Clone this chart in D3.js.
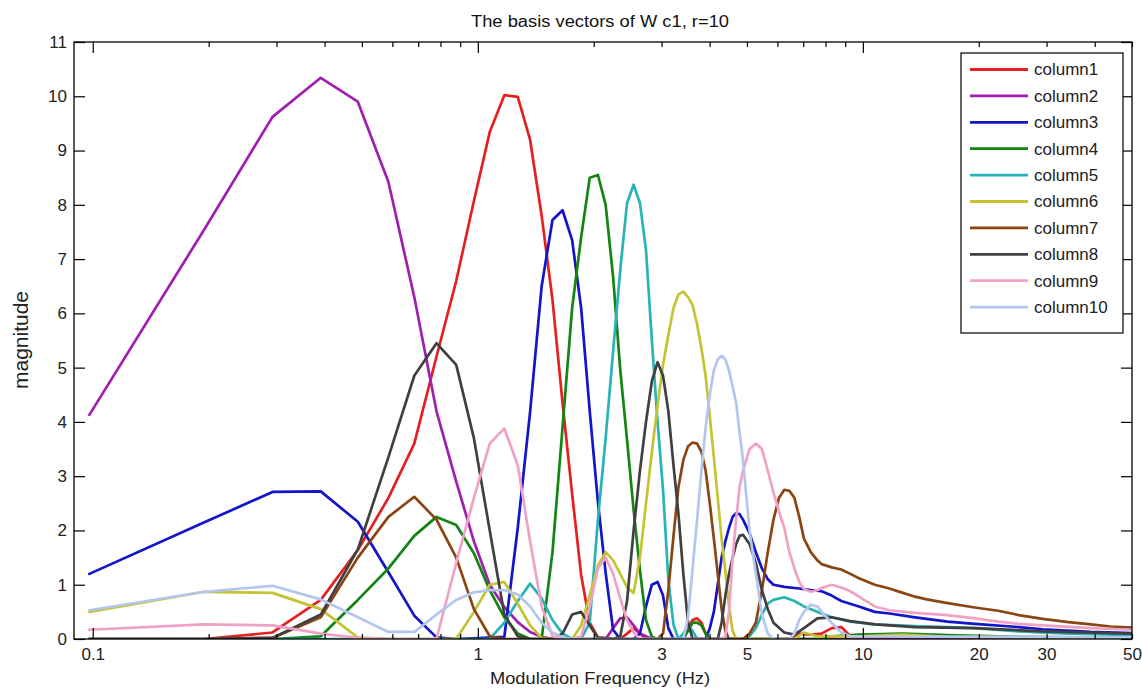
<!DOCTYPE html>
<html><head><meta charset="utf-8">
<script src="https://cdn.jsdelivr.net/npm/d3@7"></script>
<style>body{margin:0;background:#fff} text{font-family:"Liberation Sans",Arial,sans-serif}</style>
</head><body><svg id="c" width="1142" height="688"></svg>
<script>
const chartTitle = "The basis vectors of W c1, r=10";
const xLabel = "Modulation Frequency (Hz)";
const yLabel = "magnitude";
const seriesNames = ["column1","column2","column3","column4","column5","column6","column7","column8","column9","column10"];
const seriesColors = ["#e42020","#a01fb0","#1414c8","#138513","#28b4b4","#c4c432","#8b4513","#404040","#f0a2c6","#b4c6ee"];
const xTickLabels = [0.1, 1, 3, 5, 10, 20, 30, 50];
const xMajorTicks = [0.1, 1, 10];
const xMinorTicks = [0.2,0.3,0.4,0.5,0.6,0.7,0.8,0.9,2,3,4,5,6,7,8,9,20,30,40,50];
const yTicks = [0,1,2,3,4,5,6,7,8,9,10,11];

const column1 = [[0.098,0],[0.195,0],[0.293,0.12],[0.391,0.72],[0.488,1.64],[0.586,2.6],[0.684,3.6],[0.781,5.2],[0.879,6.6],[0.977,8.07],[1.074,9.34],[1.172,10.02],[1.270,9.99],[1.367,9.2],[1.465,7.8],[1.563,6.25],[1.660,4.35],[1.758,2.67],[1.855,1.18],[1.953,0.3],[2.051,0.03],[2.344,0],[2.441,0.1],[2.539,0.2],[2.637,0.1],[2.734,0],[3.418,0],[3.516,0.2],[3.613,0.35],[3.711,0.38],[3.809,0.3],[3.906,0.1],[4.004,0],[6.445,0],[6.836,0.1],[7.324,0.08],[7.813,0.1],[8.301,0.2],[8.789,0.22],[9.277,0.05],[9.766,0.03],[14.65,0.03],[50,0.02]];
const column2 = [[0.098,4.13],[0.195,7.55],[0.293,9.62],[0.391,10.34],[0.488,9.9],[0.586,8.42],[0.684,6.3],[0.781,4.2],[0.879,2.9],[0.977,1.8],[1.074,1.0],[1.172,0.59],[1.270,0.31],[1.367,0.13],[1.465,0.04],[1.563,0],[2.148,0],[2.246,0.2],[2.344,0.38],[2.441,0.4],[2.539,0.25],[2.637,0.1],[2.734,0.05],[2.832,0],[50,0]];
const column3 = [[0.098,1.2],[0.195,2.15],[0.293,2.71],[0.391,2.72],[0.488,2.16],[0.586,1.23],[0.684,0.43],[0.781,0.03],[0.879,0],[1.172,0.04],[1.270,2.05],[1.367,4.18],[1.465,6.5],[1.563,7.72],[1.660,7.9],[1.758,7.35],[1.855,6.1],[1.953,4.2],[2.051,2.52],[2.148,1.22],[2.246,0.17],[2.344,0],[2.539,0],[2.637,0.1],[2.734,0.6],[2.832,1.0],[2.930,1.05],[3.027,0.8],[3.125,0.2],[3.223,0],[3.906,0],[4.004,0.2],[4.102,0.5],[4.199,1.0],[4.297,1.5],[4.395,1.8],[4.492,2.05],[4.590,2.25],[4.688,2.32],[4.785,2.3],[4.883,2.2],[5.078,1.95],[5.273,1.6],[5.469,1.3],[5.664,1.1],[5.859,1.0],[6.25,0.96],[6.836,0.93],[7.324,0.9],[7.813,0.88],[8.301,0.8],[8.789,0.7],[9.766,0.6],[10.74,0.5],[11.72,0.47],[13.67,0.4],[16.6,0.32],[19.53,0.28],[25.39,0.22],[29.3,0.18],[39.06,0.13],[50,0.11]];
const column4 = [[0.293,0],[0.391,0.05],[0.488,0.72],[0.586,1.3],[0.684,1.9],[0.781,2.25],[0.879,2.1],[0.977,1.58],[1.074,0.9],[1.172,0.4],[1.270,0.1],[1.367,0],[1.465,0],[1.563,1.6],[1.660,3.9],[1.758,6.1],[1.855,7.4],[1.953,8.5],[2.051,8.55],[2.148,8.0],[2.246,6.67],[2.344,4.96],[2.441,3.67],[2.539,2.38],[2.637,1.27],[2.734,0.35],[2.832,0.04],[2.930,0],[3.418,0],[3.516,0.15],[3.613,0.3],[3.711,0.3],[3.809,0.25],[3.906,0.1],[4.004,0],[7.813,0],[8.301,0.05],[9.766,0.08],[12.7,0.1],[16.6,0.07],[25.39,0.04],[50,0.02]];
const column5 = [[0.098,0],[1.074,0],[1.172,0.3],[1.270,0.7],[1.367,1.02],[1.465,0.75],[1.563,0.35],[1.660,0.1],[1.758,0],[1.855,0],[1.953,0.3],[2.051,2.2],[2.148,3.7],[2.246,5.3],[2.344,6.8],[2.441,8.03],[2.539,8.37],[2.637,8.03],[2.734,7.17],[2.832,5.5],[2.930,4.0],[3.027,2.75],[3.125,1.09],[3.223,0.26],[3.320,0],[3.418,0.1],[3.516,0.25],[3.613,0.15],[3.711,0],[4.883,0],[5.078,0.05],[5.273,0.2],[5.469,0.45],[5.664,0.65],[5.859,0.72],[6.25,0.77],[6.641,0.7],[7.031,0.6],[7.617,0.5],[8.301,0.4],[9.277,0.32],[10.74,0.27],[13.67,0.24],[16.6,0.22],[19.53,0.2],[25.39,0.14],[34.18,0.1],[50,0.07]];
const column6 = [[0.098,0.5],[0.195,0.87],[0.293,0.85],[0.391,0.55],[0.488,0.03],[0.586,0],[0.879,0],[0.977,0.5],[1.074,1.0],[1.172,1.05],[1.270,0.65],[1.367,0.25],[1.465,0.02],[1.563,0],[1.758,0],[1.855,0.25],[1.953,0.8],[2.051,1.35],[2.148,1.6],[2.246,1.45],[2.344,1.2],[2.441,0.95],[2.539,0.85],[2.637,1.5],[2.734,2.5],[2.832,3.45],[2.930,4.3],[3.027,5.05],[3.125,5.6],[3.223,6.1],[3.320,6.35],[3.418,6.4],[3.516,6.3],[3.613,6.15],[3.711,5.8],[3.809,5.35],[3.906,4.85],[4.004,4.1],[4.102,3.35],[4.199,2.6],[4.297,1.85],[4.395,1.25],[4.492,0.6],[4.590,0.15],[4.688,0],[6.641,0],[7.031,0.12],[7.617,0.05],[9.766,0.05],[12.7,0.08],[16.6,0.04],[50,0.02]];
const column7 = [[0.098,0],[0.195,0],[0.293,0.02],[0.391,0.4],[0.488,1.5],[0.586,2.25],[0.684,2.62],[0.781,2.2],[0.879,1.5],[0.977,0.55],[1.074,0.05],[1.172,0],[2.930,0],[3.027,0.1],[3.125,0.9],[3.223,1.9],[3.320,2.8],[3.418,3.3],[3.516,3.55],[3.613,3.62],[3.711,3.6],[3.809,3.45],[3.906,3.1],[4.004,2.5],[4.102,1.85],[4.199,1.2],[4.297,0.55],[4.395,0.15],[4.492,0],[4.883,0],[5.078,0.1],[5.273,0.3],[5.469,0.9],[5.664,1.6],[5.859,2.2],[6.055,2.6],[6.25,2.75],[6.445,2.73],[6.641,2.6],[6.836,2.25],[7.031,1.85],[7.324,1.6],[7.617,1.45],[7.813,1.38],[8.301,1.32],[8.789,1.28],[9.277,1.2],[9.766,1.12],[10.74,1.0],[11.72,0.93],[12.7,0.85],[13.67,0.78],[14.65,0.73],[16.6,0.66],[19.53,0.58],[22.46,0.52],[25.39,0.44],[29.3,0.37],[34.18,0.31],[39.06,0.27],[43.95,0.23],[50,0.21]];
const column8 = [[0.098,0],[0.195,0],[0.293,0.02],[0.391,0.45],[0.488,1.65],[0.586,3.35],[0.684,4.85],[0.781,5.45],[0.879,5.05],[0.977,3.7],[1.074,2.0],[1.172,0.45],[1.270,0.05],[1.367,0],[1.563,0],[1.660,0.1],[1.758,0.45],[1.855,0.5],[1.953,0.25],[2.051,0.02],[2.246,0],[2.344,0.05],[2.441,0.7],[2.539,2.0],[2.637,3.1],[2.734,4.0],[2.832,4.75],[2.930,5.1],[3.027,4.85],[3.125,4.2],[3.223,3.2],[3.320,2.3],[3.418,1.2],[3.516,0.3],[3.613,0],[4.199,0],[4.297,0.3],[4.395,0.8],[4.492,1.2],[4.590,1.5],[4.688,1.75],[4.785,1.9],[4.883,1.92],[5.078,1.75],[5.273,1.4],[5.469,0.9],[5.664,0.55],[5.859,0.3],[6.25,0.12],[6.641,0.08],[7.031,0.2],[7.617,0.38],[8.301,0.4],[9.277,0.33],[10.74,0.27],[13.67,0.22],[19.53,0.2],[29.3,0.14],[50,0.1]];
const column9 = [[0.098,0.17],[0.195,0.27],[0.293,0.25],[0.391,0.1],[0.488,0.02],[0.586,0],[0.781,0],[0.879,1.4],[0.977,2.6],[1.074,3.6],[1.172,3.88],[1.270,3.2],[1.367,1.8],[1.465,0.6],[1.563,0.05],[1.660,0],[1.758,0],[1.855,0.05],[1.953,0.6],[2.051,1.3],[2.148,1.5],[2.246,1.2],[2.344,0.75],[2.441,0.35],[2.539,0.12],[2.637,0],[4.297,0],[4.395,0.05],[4.492,0.5],[4.590,1.5],[4.688,2.2],[4.785,2.8],[4.883,3.1],[5.078,3.5],[5.273,3.6],[5.469,3.5],[5.664,3.1],[5.859,2.7],[6.055,2.35],[6.25,2.05],[6.445,1.6],[6.641,1.3],[6.836,1.05],[7.031,0.92],[7.324,0.87],[7.617,0.9],[7.813,0.94],[8.301,1.0],[8.789,0.95],[9.277,0.88],[9.766,0.78],[10.74,0.6],[11.72,0.53],[13.67,0.48],[16.6,0.44],[19.53,0.38],[22.46,0.32],[25.39,0.28],[29.3,0.25],[39.06,0.2],[50,0.17]];
const column10 = [[0.098,0.53],[0.195,0.87],[0.293,0.98],[0.391,0.73],[0.488,0.4],[0.586,0.13],[0.684,0.13],[0.781,0.45],[0.879,0.72],[0.977,0.86],[1.074,0.9],[1.172,0.9],[1.270,0.82],[1.367,0.6],[1.465,0.3],[1.563,0.12],[1.660,0.03],[1.758,0],[3.418,0],[3.516,0.4],[3.613,1.3],[3.711,2.2],[3.809,3.1],[3.906,3.9],[4.004,4.5],[4.102,4.95],[4.199,5.15],[4.297,5.22],[4.395,5.15],[4.492,4.95],[4.590,4.65],[4.688,4.35],[4.785,3.8],[4.883,3.3],[5.078,2.0],[5.273,1.2],[5.469,0.45],[5.664,0.1],[5.859,0],[6.445,0],[6.641,0.1],[6.836,0.35],[7.031,0.5],[7.324,0.63],[7.617,0.6],[7.813,0.5],[8.301,0.3],[8.789,0.12],[9.277,0.05],[50,0.03]];
const seriesData = [column1,column2,column3,column4,column5,column6,column7,column8,column9,column10];

const svg = d3.select('#c');
svg.append('rect').attr('width',1142).attr('height',688).attr('fill','#fff');
const L=74, R=1132, T=42, B=639;
const x = d3.scaleLog().domain([0.0894,50]).range([L,R]);
const y = d3.scaleLinear().domain([0,11]).range([B,T]);

svg.append('clipPath').attr('id','clip').append('rect').attr('x',L).attr('y',T).attr('width',R-L).attr('height',B-T);
const line = d3.line().x(d=>x(d[0])).y(d=>y(d[1]));
const plot = svg.append('g').attr('clip-path','url(#clip)');
seriesData.forEach((s,i)=>{
  plot.append('path').attr('d',line(s)).attr('fill','none')
    .attr('stroke',seriesColors[i]).attr('stroke-width',2.7)
    .attr('stroke-linejoin','round').attr('stroke-linecap','round');
});

function styleAxis(g){ g.select('.domain').remove(); g.selectAll('line').attr('stroke','#000').attr('stroke-width',1.2); }
svg.append('g').attr('transform',`translate(0,${B})`).call(d3.axisBottom(x).tickValues(xMinorTicks).tickSize(-5).tickFormat('')).call(styleAxis);
svg.append('g').attr('transform',`translate(0,${B})`).call(d3.axisBottom(x).tickValues(xMajorTicks).tickSize(-11).tickFormat('')).call(styleAxis);
svg.append('g').attr('transform',`translate(0,${T})`).call(d3.axisTop(x).tickValues(xMinorTicks).tickSize(-5).tickFormat('')).call(styleAxis);
svg.append('g').attr('transform',`translate(0,${T})`).call(d3.axisTop(x).tickValues(xMajorTicks).tickSize(-11).tickFormat('')).call(styleAxis);
const xl = svg.append('g').attr('transform',`translate(0,${B})`).call(d3.axisBottom(x).tickValues(xTickLabels).tickSize(0).tickPadding(9).tickFormat(d=>String(d))).call(styleAxis);
xl.selectAll('text').attr('font-size',17).attr('fill','#222').attr('font-family','"Liberation Sans",Arial,sans-serif');
const yl = svg.append('g').attr('transform',`translate(${L},0)`).call(d3.axisLeft(y).tickValues(yTicks).tickSize(-11).tickPadding(7)).call(styleAxis);
yl.selectAll('text').attr('font-size',17).attr('fill','#222').attr('font-family','"Liberation Sans",Arial,sans-serif');
svg.append('g').attr('transform',`translate(${R},0)`).call(d3.axisRight(y).tickValues(yTicks).tickSize(-11).tickFormat('')).call(styleAxis);
svg.append('rect').attr('x',L).attr('y',T).attr('width',R-L).attr('height',B-T).attr('fill','none').attr('stroke','#000').attr('stroke-width',1.3);

svg.append('text').attr('x',600).attr('y',27).attr('text-anchor','middle').attr('font-size',16).attr('fill','#111')
  .attr('textLength',258).attr('lengthAdjust','spacingAndGlyphs').text(chartTitle);
svg.append('text').attr('x',600).attr('y',684).attr('text-anchor','middle').attr('font-size',17).attr('fill','#222')
  .attr('textLength',220).attr('lengthAdjust','spacingAndGlyphs').text(xLabel);
svg.append('text').attr('transform','translate(28,340) rotate(-90)').attr('text-anchor','middle').attr('font-size',21).attr('fill','#222').text(yLabel);

const lg = svg.append('g');
lg.append('rect').attr('x',961).attr('y',53).attr('width',162).attr('height',280).attr('fill','#fff').attr('stroke','#000').attr('stroke-width',1.2);
seriesNames.forEach((n,i)=>{
  const yy = 69.5 + i*26.4;
  lg.append('line').attr('x1',970).attr('x2',1028).attr('y1',yy).attr('y2',yy).attr('stroke',seriesColors[i]).attr('stroke-width',2.8);
  lg.append('text').attr('x',1034).attr('y',yy).attr('dy','0.35em').attr('font-size',17).attr('fill','#222').text(n);
});
</script></body></html>
